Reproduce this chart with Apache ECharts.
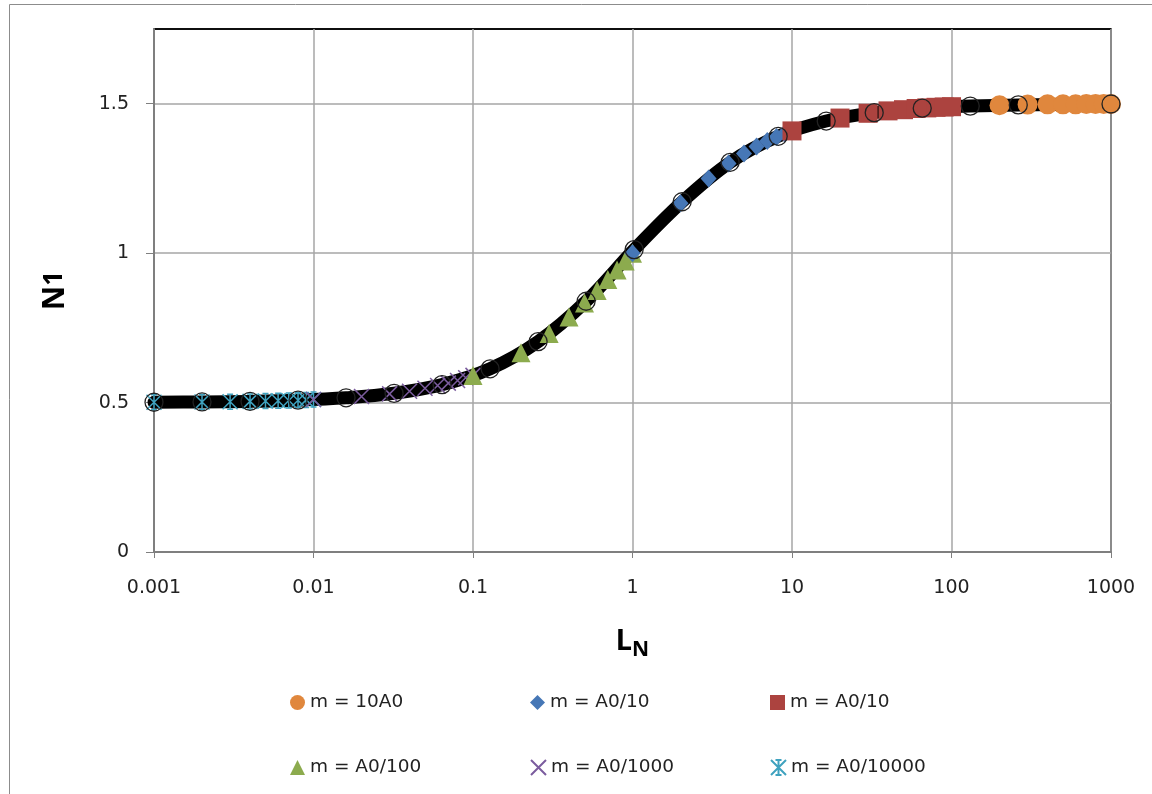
<!DOCTYPE html>
<html>
<head>
<meta charset="utf-8">
<script src="https://cdn.jsdelivr.net/npm/echarts@6/dist/echarts.min.js"></script>
<style>
  html, body { margin: 0; padding: 0; background: #fff; }
  #chart { width: 1152px; height: 794px; }
</style>
</head>
<body>
<div id="chart"></div>
<script>
// Reference curve N1(L_N) and its open-circle sample points
const lnCurve = [0.001, 0.002, 0.004, 0.008, 0.016, 0.032, 0.064, 0.128, 0.256, 0.512,
                 1.024, 2.048, 4.096, 8.192, 16.384, 32.768, 65.536, 131.07, 262.14, 1000];
const n1Curve = [0.501, 0.502, 0.504, 0.508, 0.516, 0.531, 0.560, 0.613, 0.704, 0.839,
                 1.012, 1.172, 1.304, 1.391, 1.442, 1.470, 1.485, 1.492, 1.496, 1.499];

// m = 10A0
const lnA = [200, 300, 400, 500, 600, 700, 800, 900, 1000];
const n1A = [1.495, 1.497, 1.498, 1.498, 1.498, 1.499, 1.499, 1.499, 1.499];
// m = A0/10 (diamonds)
const lnB = [1, 2, 3, 4, 5, 6, 7, 8, 9, 10];
const n1B = [1.000, 1.167, 1.250, 1.300, 1.333, 1.357, 1.375, 1.389, 1.400, 1.409];
// m = A0/10 (squares)
const lnC = [10, 20, 30, 40, 50, 60, 70, 80, 90, 100];
const n1C = [1.409, 1.452, 1.468, 1.476, 1.480, 1.484, 1.486, 1.488, 1.489, 1.490];
// m = A0/100
const lnD = [0.1, 0.2, 0.3, 0.4, 0.5, 0.6, 0.7, 0.8, 0.9, 1.0];
const n1D = [0.591, 0.667, 0.731, 0.786, 0.833, 0.875, 0.912, 0.944, 0.974, 1.000];
// m = A0/1000
const lnE = [0.01, 0.02, 0.03, 0.04, 0.05, 0.06, 0.07, 0.08, 0.09, 0.1];
const n1E = [0.510, 0.520, 0.529, 0.538, 0.548, 0.557, 0.565, 0.574, 0.583, 0.591];
// m = A0/10000
const lnF = [0.001, 0.002, 0.003, 0.004, 0.005, 0.006, 0.007, 0.008, 0.009, 0.010];
const n1F = [0.501, 0.502, 0.503, 0.504, 0.505, 0.506, 0.507, 0.508, 0.509, 0.510];

const xTickLabels = ['0.001', '0.01', '0.1', '1', '10', '100', '1000'];
const yTickLabels = ['0', '0.5', '1', '1.5'];

const legendNames = {
  sA: 'm = 10A0', sB: 'm = A0/10', sC: 'm = A0/10',
  sD: 'm = A0/100', sE: 'm = A0/1000', sF: 'm = A0/10000'
};

const zip = (xs, ys) => xs.map((x, i) => [x, ys[i]]);

const crossPath = 'path://M0,0 L10,10 M10,0 L0,10';
const starPath = 'path://M0,0 L10,10 M10,0 L0,10 M5,0 L5,10 M3,0 L7,0 M3,10 L7,10';

const FONT = '"DejaVu Sans", "Noto Sans", sans-serif';
const TITLE_FONT = '"Noto Sans", "DejaVu Sans", sans-serif';

const chart = echarts.init(document.getElementById('chart'), null, { renderer: 'canvas' });

function legendAt(name, left, top) {
  return {
    data: [name], left: left, top: top, orient: 'horizontal',
    itemWidth: 15, itemHeight: 15, itemGap: 0, selectedMode: false,
    padding: 0,
    textStyle: { fontFamily: FONT, fontSize: 18.5, color: '#222' },
    formatter: n => legendNames[n]
  };
}

const option = {
  animation: false,
  backgroundColor: '#fff',
  graphic: [{
    type: 'rect', left: 7, top: 2, z: -1,
    shape: { width: 1160, height: 800 },
    style: { fill: 'none', stroke: '#8c8c8c', lineWidth: 1 }
  }],
  grid: {
    left: 154, right: 41, top: 29, bottom: 242,
    show: true, borderColor: '#000', borderWidth: 1.5, backgroundColor: 'transparent'
  },
  legend: [
    legendAt('sA', 290, 693),
    legendAt('sB', 530, 693),
    legendAt('sC', 770, 693),
    legendAt('sD', 290, 758),
    legendAt('sE', 530, 758),
    legendAt('sF', 770, 758)
  ],
  xAxis: {
    type: 'log', logBase: 10, min: 0.001, max: 1000,
    name: '{l|L}{s|N}', nameLocation: 'middle', nameGap: 70,
    nameTextStyle: {
      rich: {
        l: { fontFamily: TITLE_FONT, fontSize: 29, fontWeight: 'bold', color: '#000' },
        s: { fontFamily: TITLE_FONT, fontSize: 21, fontWeight: 'bold', color: '#000', padding: [18, 0, 0, 0] }
      }
    },
    axisLine: { lineStyle: { color: '#7f7f7f', width: 2 } },
    axisTick: { show: true, length: 6, lineStyle: { color: '#7f7f7f', width: 1 } },
    minorTick: { show: false },
    splitLine: { show: true, lineStyle: { color: '#a6a6a6', width: 1.5 } },
    axisLabel: {
      margin: 27, fontFamily: FONT, fontSize: 19, color: '#222',
      formatter: v => {
        const k = Math.round(Math.log10(v)) + 3;
        return xTickLabels[k] !== undefined ? xTickLabels[k] : '';
      }
    }
  },
  yAxis: {
    type: 'value', min: 0, max: 1.75, interval: 0.5,
    name: '{n|N}{d|1}', nameLocation: 'middle', nameGap: 84, nameRotate: 90,
    nameTextStyle: {
      rich: {
        n: { fontFamily: TITLE_FONT, fontSize: 30, fontWeight: 'bold', color: '#000' },
        d: { fontFamily: TITLE_FONT, fontSize: 26, fontWeight: 'bold', color: '#000' }
      }
    },
    axisLine: { show: true, lineStyle: { color: '#7f7f7f', width: 2 } },
    axisTick: { show: true, length: 8, lineStyle: { color: '#7f7f7f', width: 1 } },
    splitLine: {
      show: true,
      lineStyle: { color: ['#a6a6a6', '#a6a6a6', '#a6a6a6', '#a6a6a6', '#000'], width: 1.5 }
    },
    axisLabel: {
      margin: 25, fontFamily: FONT, fontSize: 19, color: '#222',
      showMaxLabel: false,
      formatter: v => {
        const k = Math.round(v / 0.5);
        return Math.abs(v - k * 0.5) < 1e-9 && yTickLabels[k] !== undefined ? yTickLabels[k] : '';
      }
    }
  },
  series: [
    {
      name: 'curve', type: 'line', smooth: 0.35, showSymbol: false, silent: true, z: 1,
      data: zip(lnCurve, n1Curve),
      lineStyle: { color: '#000', width: 13, cap: 'round', join: 'round' }
    },
    {
      name: 'sF', type: 'scatter', symbol: starPath, symbolSize: 15, z: 3,
      data: zip(lnF, n1F),
      itemStyle: { color: '#3fa2bf', borderColor: '#3fa2bf', borderWidth: 1.5, opacity: 1 }
    },
    {
      name: 'sE', type: 'scatter', symbol: crossPath, symbolSize: 15, z: 3,
      data: zip(lnE, n1E),
      itemStyle: { color: '#7b5c9e', borderColor: '#7b5c9e', borderWidth: 1.5, opacity: 1 }
    },
    {
      name: 'sD', type: 'scatter', symbol: 'triangle', symbolSize: 19, z: 3,
      data: zip(lnD, n1D),
      itemStyle: { color: '#8cab4e', opacity: 1 }
    },
    {
      name: 'sB', type: 'scatter', symbol: 'diamond', symbolSize: [16, 18], z: 3,
      data: zip(lnB, n1B),
      itemStyle: { color: '#4677b6', opacity: 1 }
    },
    {
      name: 'sC', type: 'scatter', symbol: 'rect', symbolSize: 19, z: 3,
      data: zip(lnC, n1C),
      itemStyle: { color: '#ac433f', opacity: 1 }
    },
    {
      name: 'sA', type: 'scatter', symbol: 'circle', symbolSize: 20, z: 3,
      data: zip(lnA, n1A),
      itemStyle: { color: '#e0873d', opacity: 1 }
    },
    {
      name: 'points', type: 'scatter', symbol: 'circle', symbolSize: 18, silent: true, z: 4,
      data: zip(lnCurve, n1Curve),
      itemStyle: { color: 'rgba(0,0,0,0)', borderColor: '#222', borderWidth: 1.3, opacity: 1 }
    }
  ]
};

chart.setOption(option);
</script>
</body>
</html>
